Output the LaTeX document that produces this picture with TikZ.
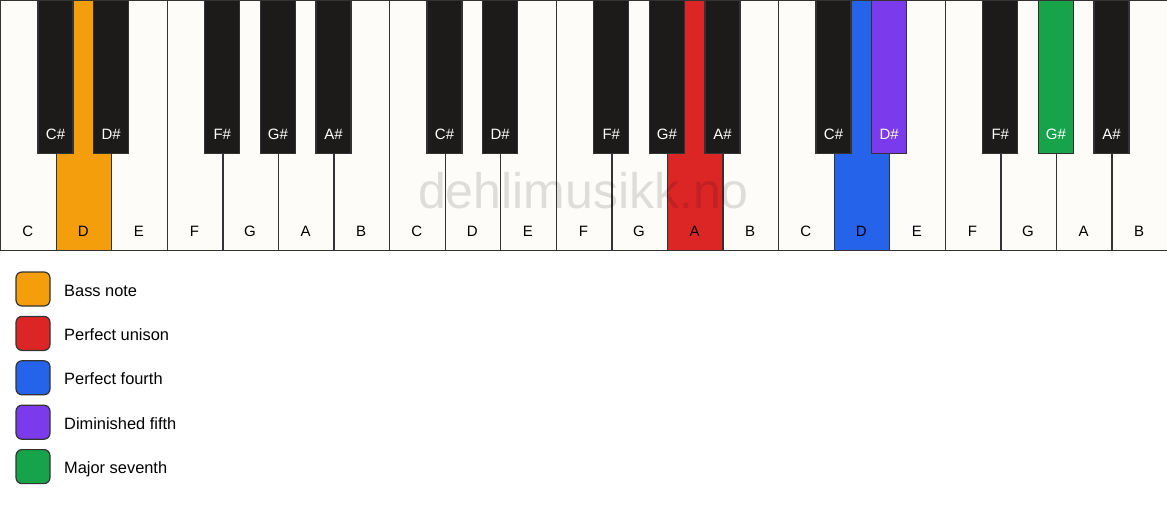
\documentclass[tikz,border=0pt]{standalone}
\usepackage{fontspec}
\setmainfont{Liberation Sans}

\definecolor{keywhite}{HTML}{FDFCF9}
\definecolor{keyblack}{HTML}{1C1B1A}
\definecolor{keyline}{HTML}{333333}
\definecolor{bassnote}{HTML}{F59E0B}
\definecolor{unison}{HTML}{DC2626}
\definecolor{fourth}{HTML}{2563EB}
\definecolor{dimfifth}{HTML}{7C3AED}
\definecolor{seventh}{HTML}{16A34A}

\begin{document}
\begin{tikzpicture}[x=1pt, y=-1pt,
  whitekey/.style={draw=keyline, line width=1.3pt, fill=keywhite, minimum width=55.571pt, minimum height=250pt, inner sep=0pt, anchor=north west},
  blackkey/.style={draw=keyline, line width=1.3pt, fill=keyblack, minimum width=35pt, minimum height=153pt, inner sep=0pt, anchor=north},
  legendbox/.style={draw=keyline, line width=1.2pt, rounded corners=6pt, minimum width=34pt, minimum height=34pt, inner sep=0pt},
  hl w1/.style={fill=bassnote},
  hl w12/.style={fill=unison},
  hl w15/.style={fill=fourth},
  hl b2-2/.style={fill=dimfifth},
  hl b2-5/.style={fill=seventh},
  keytext/.style={anchor=base, inner sep=0pt, font=\fontsize{15}{18}\selectfont}
]
\useasboundingbox (0,0) rectangle (1167,506);
\fill[white] (0,0) rectangle (1167,506);

% White keys
\foreach \n [count=\i from 0] in {C,D,E,F,G,A,B,C,D,E,F,G,A,B,C,D,E,F,G,A,B} {
  \node[whitekey, hl w\i/.try] (w\i) at (\i*55.571, 0) {};
  \node[keytext] at (\i*55.571+27.79, 236.5) {\n};
}

% Black keys
\foreach \o in {0,1,2} {
  \foreach \b/\n in {1/C\#, 2/D\#, 4/F\#, 5/G\#, 6/A\#} {
    \node[blackkey, hl b\o-\b/.try] (b\o-\b) at ({(\o*7+\b)*55.571}, 0) {};
    \node[keytext, text=white] at ({(\o*7+\b)*55.571}, 139) {\n};
  }
}

% Watermark
\node[anchor=base, inner sep=0pt, text=black, text opacity=0.12, font=\fontsize{50}{60}\selectfont] (mark) at (583.5, 208) {dehlimusikk.no};

% Legend
\foreach \c/\t [count=\k from 0] in {bassnote/Bass note, unison/Perfect unison, fourth/Perfect fourth, dimfifth/Diminished fifth, seventh/Major seventh} {
  \node[legendbox, fill=\c] (box\k) at (33, 289+44.4*\k) {};
  \node[anchor=base west, inner sep=0pt, font=\fontsize{16.4}{19}\selectfont] (txt\k) at (64, 296+44.4*\k) {\t};
}

\end{tikzpicture}
\end{document}
